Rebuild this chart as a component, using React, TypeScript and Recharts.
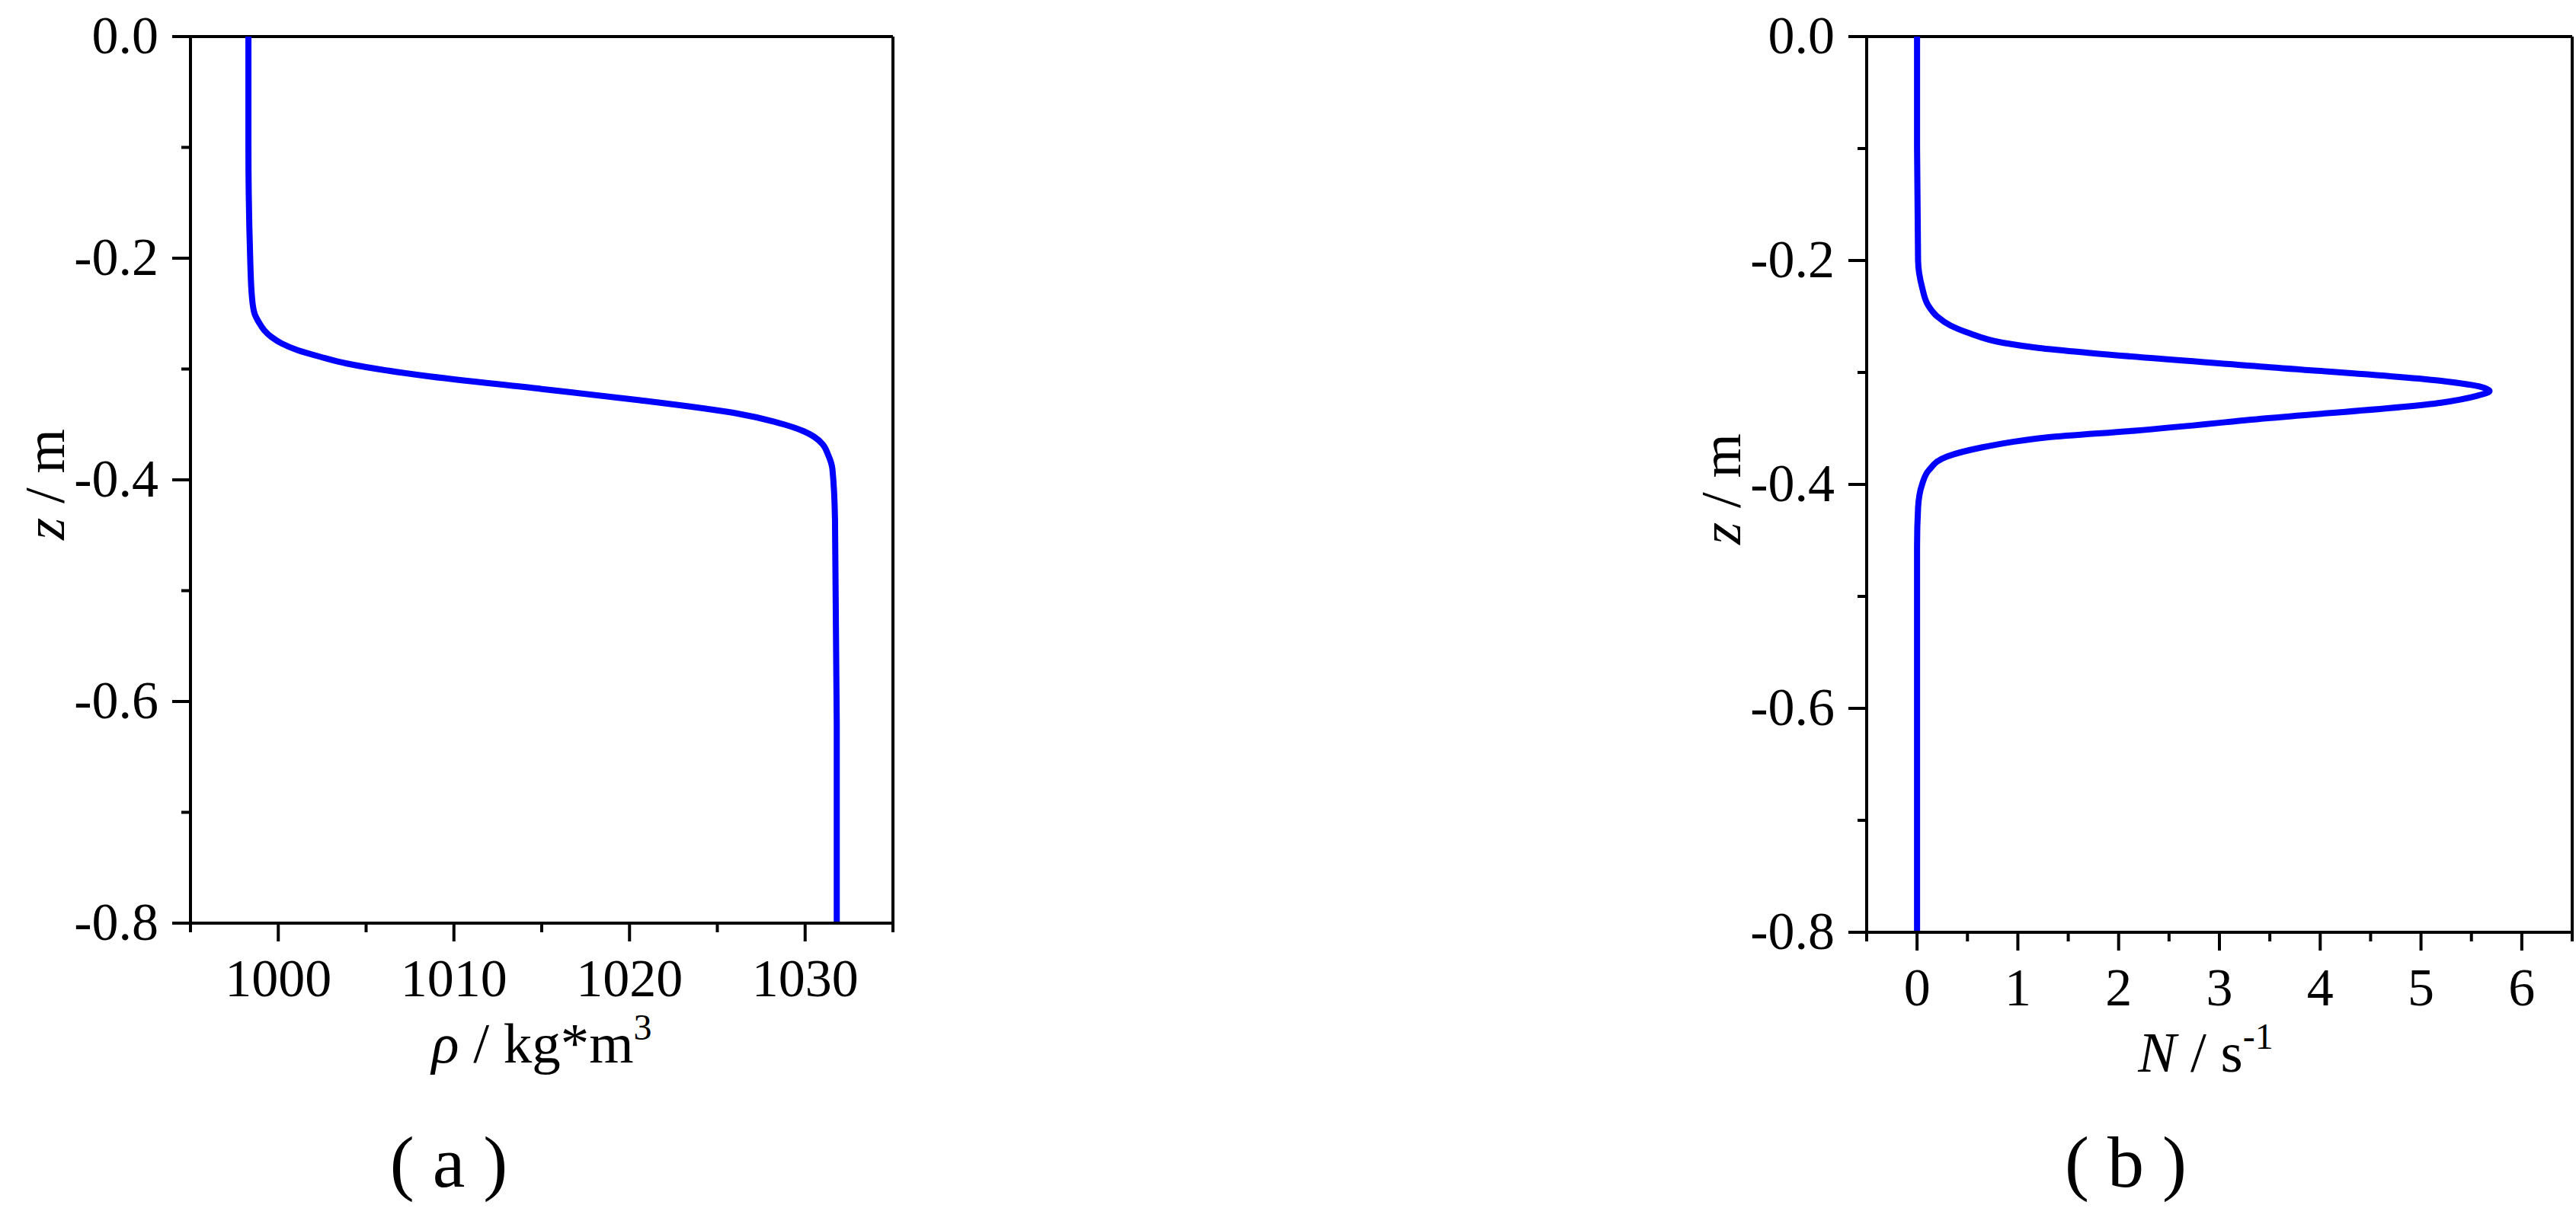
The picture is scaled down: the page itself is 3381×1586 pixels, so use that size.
import React from "react";
import { LineChart, Line, XAxis, YAxis, ReferenceLine } from "recharts";

// (a) density profile: depth z [m] and density rho [kg*m^3]
const depthA = [0, -0.1, -0.2, -0.235, -0.25, -0.258, -0.265, -0.271, -0.277, -0.283, -0.289, -0.295, -0.306, -0.318, -0.328, -0.34, -0.35, -0.356, -0.361, -0.368, -0.377, -0.39, -0.436, -0.62, -0.8];
const rhoA = [998.3, 998.3, 998.4, 998.5, 998.65, 998.9, 999.2, 999.6, 1000.2, 1001.1, 1002.4, 1003.9, 1008.3, 1015.0, 1020.5, 1026.1, 1028.8, 1029.9, 1030.5, 1031.0, 1031.3, 1031.55, 1031.7, 1031.8, 1031.8];

// (b) buoyancy frequency: depth z [m] and N [1/s]
const depthB = [0, -0.1, -0.2, -0.224, -0.24, -0.25, -0.258, -0.265, -0.2735, -0.278, -0.2826, -0.295, -0.3075, -0.313, -0.3166, -0.321, -0.327, -0.341, -0.352, -0.358, -0.362, -0.367, -0.375, -0.387, -0.4, -0.421, -0.455, -0.6, -0.8];
const freqB = [0, 0, 0.01, 0.05, 0.11, 0.2, 0.33, 0.52, 0.85, 1.2, 1.72, 3.46, 5.2, 5.6, 5.68, 5.55, 5.2, 3.46, 2.16, 1.29, 0.95, 0.64, 0.3, 0.12, 0.05, 0.01, 0, 0, 0];

const depthTicks = [0, -0.1, -0.2, -0.3, -0.4, -0.5, -0.6, -0.7, -0.8];
const depthLabels = [0, -0.2, -0.4, -0.6, -0.8];
const rhoTicks = [995, 1000, 1005, 1010, 1015, 1020, 1025, 1030, 1035];
const rhoLabels = [1000, 1010, 1020, 1030];
const freqTicks = [-0.5, 0, 0.5, 1, 1.5, 2, 2.5, 3, 3.5, 4, 4.5, 5, 5.5, 6, 6.5];
const freqLabels = [0, 1, 2, 3, 4, 5, 6];

const FONT = '"Liberation Serif", "Times New Roman", serif';
const BLUE = "#0000ff";

const dataA = depthA.map((z, i) => ({ z, v: rhoA[i] }));
const dataB = depthB.map((z, i) => ({ z, v: freqB[i] }));

function makeXTick(labels: number[], fmt: (v: number) => string) {
  return (props: any) => {
    const { x, y, payload } = props;
    const major = labels.includes(payload.value);
    return (
      <g>
        <line x1={x} x2={x} y1={y} y2={y + (major ? 24 : 12)} stroke="#000" strokeWidth={4} />
        {major && (
          <text x={x} y={y + 96} textAnchor="middle" fontSize={70} fontFamily={FONT} fill="#000">
            {fmt(payload.value)}
          </text>
        )}
      </g>
    );
  };
}

function makeYTick(labels: number[]) {
  return (props: any) => {
    const { x, y, payload } = props;
    const major = labels.includes(payload.value);
    return (
      <g>
        <line x1={x} x2={x - (major ? 24 : 12)} y1={y} y2={y} stroke="#000" strokeWidth={4} />
        {major && (
          <text x={x - 42} y={y + 22} textAnchor="end" fontSize={70} fontFamily={FONT} fill="#000">
            {payload.value.toFixed(1)}
          </text>
        )}
      </g>
    );
  };
}

function Profile({
  data,
  xDomain,
  xTicks,
  xLabels,
  width,
  height,
  margin,
}: {
  data: { z: number; v: number }[];
  xDomain: [number, number];
  xTicks: number[];
  xLabels: number[];
  width: number;
  height: number;
  margin: { top: number; right: number; bottom: number; left: number };
}) {
  return (
    <LineChart layout="vertical" width={width} height={height} data={data} margin={margin}>
      <XAxis
        type="number"
        dataKey="v"
        domain={xDomain}
        allowDataOverflow
        ticks={xTicks}
        interval={0}
        tickSize={0}
        tickMargin={0}
        tickLine={false}
        tick={makeXTick(xLabels, (v) => String(v))}
        axisLine={{ stroke: "#000", strokeWidth: 4 }}
        height={30}
      />
      <YAxis
        type="number"
        dataKey="z"
        domain={[-0.8, 0]}
        reversed
        allowDataOverflow
        ticks={depthTicks}
        interval={0}
        tickSize={0}
        tickMargin={0}
        tickLine={false}
        tick={makeYTick(depthLabels)}
        axisLine={{ stroke: "#000", strokeWidth: 4 }}
        width={60}
      />
      <ReferenceLine y={0} stroke="#000" strokeWidth={4} />
      <ReferenceLine x={xDomain[1]} stroke="#000" strokeWidth={4} />
      <Line
        type="monotone"
        dataKey="v"
        stroke={BLUE}
        strokeWidth={8}
        dot={false}
        activeDot={false}
        isAnimationActive={false}
      />
    </LineChart>
  );
}

export default function App() {
  return (
    <div style={{ position: "relative", width: 3381, height: 1586, background: "#fff", overflow: "hidden" }}>
      <style>{`body{margin:0}`}</style>
      <div style={{ position: "absolute", left: 0, top: 0 }}>
        <Profile
          data={dataA}
          xDomain={[995, 1035]}
          xTicks={rhoTicks}
          xLabels={rhoLabels}
          width={1300}
          height={1400}
          margin={{ top: 48, left: 190, right: 128, bottom: 158 }}
        />
      </div>
      <div style={{ position: "absolute", left: 2100, top: 0 }}>
        <Profile
          data={dataB}
          xDomain={[-0.5, 6.5]}
          xTicks={freqTicks}
          xLabels={freqLabels}
          width={1281}
          height={1400}
          margin={{ top: 48, left: 290, right: 5, bottom: 146 }}
        />
      </div>
      <svg
        width={3381}
        height={1586}
        style={{ position: "absolute", left: 0, top: 0, pointerEvents: "none" }}
        fontFamily={FONT}
        fill="#000"
      >
        <text transform="translate(84,636) rotate(-90)" textAnchor="middle" fontSize={75}>
          <tspan fontStyle="italic">z</tspan> / m
        </text>
        <text transform="translate(2284,642) rotate(-90)" textAnchor="middle" fontSize={75}>
          <tspan fontStyle="italic">z</tspan> / m
        </text>
        <text x={711} y={1395} textAnchor="middle" fontSize={75}>
          <tspan fontStyle="italic">ρ</tspan> / kg*m
          <tspan dy={-30} fontSize={48}>3</tspan>
        </text>
        <text x={2895} y={1407} textAnchor="middle" fontSize={75}>
          <tspan fontStyle="italic">N</tspan> / s
          <tspan dy={-30} fontSize={48}>-1</tspan>
        </text>
        <text x={589} y={1558} textAnchor="middle" fontSize={96}>
          ( a )
        </text>
        <text x={2790} y={1558} textAnchor="middle" fontSize={96}>
          ( b )
        </text>
      </svg>
    </div>
  );
}
